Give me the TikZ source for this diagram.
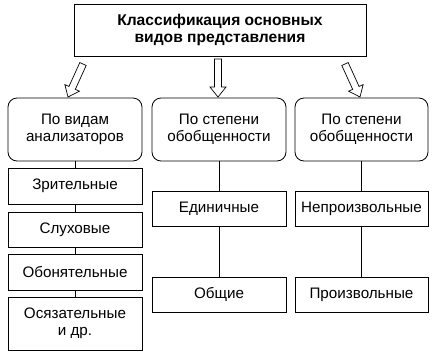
\documentclass[tikz,border=0pt]{standalone}
\usepackage{fontspec}
\setmainfont{Liberation Sans}
\usetikzlibrary{calc}
\tikzset{
  base/.style={draw, line width=0.8pt, align=center, inner sep=1pt, font=\fontsize{15.2}{16.8}\selectfont},
  topbox/.style={base, minimum width=292pt, minimum height=52pt, font=\fontsize{15.6}{17}\selectfont\bfseries},
  catbox/.style={base, rounded corners=9pt, minimum width=134pt, minimum height=63pt},
  itembox/.style={base, minimum width=134pt, minimum height=35pt},
  link/.style={line width=0.8pt},
  hollow/.style={draw, line width=0.7pt, fill=white}
}
\newcommand\hollowarrow[2]{%
  \path let \p1=($(#2)-(#1)$), \n1={atan2(\y1,\x1)}, \n2={veclen(\x1,\y1)} in
    [hollow, shift={(#1)}, rotate=\n1]
    (0pt,3.5pt) -- ({(\n2-10)*1pt},3.5pt) -- ({(\n2-10)*1pt},8pt) -- ({\n2*1pt},0pt)
    -- ({(\n2-10)*1pt},-8pt) -- ({(\n2-10)*1pt},-3.5pt) -- (0pt,-3.5pt) -- cycle;}
\begin{document}
\begin{tikzpicture}[x=1pt, y=-1pt]
\useasboundingbox (0,0) rectangle (437,357);
\node[topbox] (top) at (220,30) {Классификация основных\\видов представления};
\node[catbox] (L) at (75,129.5) {По видам\\анализаторов};
\node[catbox] (M) at (219,129.5) {По степени\\обобщенности};
\node[catbox, minimum width=133pt] (R) at (361.5,129.5) {По степени\\обобщенности};
\node[itembox, minimum height=36pt] (l1) at (75,186) {Зрительные};
\node[itembox] (l2) at (75,229.5) {Слуховые};
\node[itembox, minimum height=36pt] (l3) at (75,272) {Обонятельные};
\node[itembox, minimum height=53pt] (l4) at (75,323.5) {Осязательные\\и др.};
\node[itembox] (m1) at (219,209) {Единичные};
\node[itembox] (m2) at (219,294.5) {Общие};
\node[itembox, minimum width=133pt] (r1) at (361.5,209) {Непроизвольные};
\node[itembox, minimum width=133pt] (r2) at (361.5,294.5) {Произвольные};
\draw[link] (L) -- (l1) (l1) -- (l2) (l2) -- (l3) (l3) -- (l4);
\draw[link] (M) -- (m1) (m1) -- (m2);
\draw[link] (R) -- (r1) (r1) -- (r2);
\coordinate (a1) at (83,64); \coordinate (b1) at (68,97);
\coordinate (a2) at (218,59); \coordinate (b2) at (218,97);
\coordinate (a3) at (345,64); \coordinate (b3) at (360,97);
\hollowarrow{a1}{b1}
\hollowarrow{a2}{b2}
\hollowarrow{a3}{b3}
\end{tikzpicture}
\end{document}
